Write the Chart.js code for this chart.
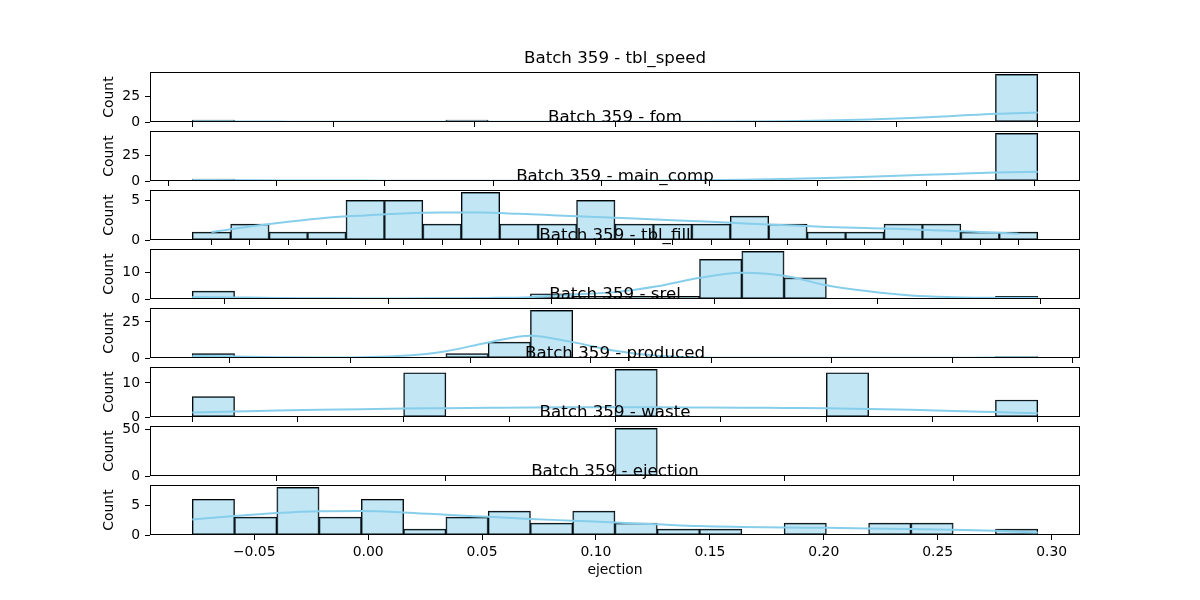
<!DOCTYPE html>
<html>
<head>
<meta charset="utf-8">
<title>Batch 359</title>
<script src="https://cdn.jsdelivr.net/npm/chart.js@4.4.1/dist/chart.umd.min.js"></script>
<style>
  html, body { margin: 0; padding: 0; background: #fff; }
  #wrap { position: relative; width: 1200px; height: 600px; overflow: hidden; }
  .panel { position: absolute; left: 0; width: 1200px; }
  .panel canvas { display: block; }
</style>
</head>
<body>
<div id="wrap"></div>
<script>
// panel names (one histogram per column)
const batchName = 'Batch 359';
const panelNames = ['tbl_speed', 'fom', 'main_comp', 'tbl_fill', 'srel', 'produced', 'waste', 'ejection'];

// bin counts (20 bins each, main_comp has 22 discrete values)
const tblSpeedCounts = [2, 0, 0, 0, 0, 0, 2, 0, 0, 0, 0, 0, 0, 0, 0, 0, 0, 0, 0, 47];
const fomCounts = [2, 1, 0, 0, 0, 0, 0, 0, 0, 0, 0, 0, 0, 0, 0, 0, 0, 0, 1, 47];
const mainCompCounts = [1, 2, 1, 1, 5, 5, 2, 6, 2, 2, 5, 2, 2, 2, 3, 2, 1, 1, 2, 2, 1, 1];
const tblFillCounts = [3, 0, 0, 0, 0, 0, 0, 0, 2, 1, 1, 1, 15, 18, 8, 0, 0, 0, 0, 1];
const srelCounts = [3, 0, 0, 0, 0, 0, 3, 11, 33, 0, 0, 0, 0, 0, 0, 0, 0, 0, 0, 1];
const producedCounts = [6, 0, 0, 0, 0, 13, 0, 0, 0, 0, 14, 0, 0, 0, 0, 13, 0, 0, 0, 5];
const wasteCounts = [0, 0, 0, 0, 0, 0, 0, 0, 0, 0, 51, 0, 0, 0, 0, 0, 0, 0, 0, 0];
const ejectionCounts = [6, 3, 8, 3, 6, 1, 3, 4, 2, 4, 2, 1, 1, 0, 2, 0, 2, 2, 0, 1];

// kde curve read at the bin edges (main_comp: at each value)
const tblSpeedKde = [0.5, 0.5, 0.4, 0.3, 0.3, 0.3, 0.3, 0.3, 0.3, 0.2, 0.2, 0.2, 0.3, 0.5, 0.8, 1.4, 2.4, 3.9, 5.9, 8.1, 9.4];
const fomKde = [1.0, 0.8, 0.6, 0.5, 0.4, 0.35, 0.3, 0.3, 0.3, 0.3, 0.3, 0.45, 0.7, 1.2, 2.0, 3.0, 4.2, 5.6, 7.0, 8.3, 9.1];
const mainCompKde = [1.0, 1.7, 2.3, 2.8, 3.1, 3.35, 3.45, 3.45, 3.3, 3.1, 2.9, 2.7, 2.5, 2.3, 2.05, 1.85, 1.65, 1.5, 1.4, 1.2, 1.0, 0.8];
const tblFillKde = [0.8, 0.6, 0.4, 0.3, 0.2, 0.2, 0.3, 0.4, 0.7, 1.7, 2.6, 4.8, 8.0, 9.9, 8.8, 5.2, 2.9, 1.3, 0.7, 0.5, 0.5];
const srelKde = [1.4, 1.0, 0.6, 0.4, 0.6, 1.5, 4.7, 10.8, 15.5, 11.0, 5.0, 1.5, 0.4, 0.15, 0.1, 0.1, 0.1, 0.15, 0.2, 0.3, 0.3];
const producedKde = [1.3, 1.6, 1.9, 2.1, 2.3, 2.5, 2.6, 2.7, 2.8, 2.85, 2.85, 2.85, 2.8, 2.75, 2.65, 2.55, 2.35, 2.1, 1.8, 1.45, 1.1];
const wasteKde = [];
const ejectionKde = [2.6, 3.2, 3.7, 4.0, 4.05, 3.8, 3.4, 3.05, 2.7, 2.4, 2.1, 1.8, 1.5, 1.35, 1.25, 1.2, 1.1, 1.0, 0.9, 0.7, 0.4];

// first and last bin edge of each panel
const binLow = [20, 0.22, -0.5, -0.2, -0.31, 0, -0.5, -0.0772];
const binHigh = [80, 8.03, 21.5, 4.98, 6.71, 4, 0.5, 0.2939];

// x tick values
const tblSpeedTicks = [20, 30, 40, 50, 60, 70, 80];
const fomTicks = [0, 1, 2, 3, 4, 5, 6, 7, 8];
const mainCompTicks = [0, 1, 2, 3, 4, 5, 6, 7, 8, 9, 10, 11, 12, 13, 14, 15, 16, 17, 18, 19, 20, 21];
const tblFillTicks = [0, 1, 2, 3, 4, 5];
const srelTicks = [0, 1, 2, 3, 4, 5, 6, 7];
const producedTicks = [0, 0.5, 1, 1.5, 2, 2.5, 3, 3.5, 4];
const wasteTicks = [-0.4, -0.2, 0, 0.2, 0.4];
const ejectionTicks = [-0.05, 0, 0.05, 0.1, 0.15, 0.2, 0.25, 0.3];

// y tick step
const yStep = [25, 25, 5, 10, 25, 10, 50, 5];

const allCounts = [tblSpeedCounts, fomCounts, mainCompCounts, tblFillCounts, srelCounts, producedCounts, wasteCounts, ejectionCounts];
const allKde = [tblSpeedKde, fomKde, mainCompKde, tblFillKde, srelKde, producedKde, wasteKde, ejectionKde];
const allTicks = [tblSpeedTicks, fomTicks, mainCompTicks, tblFillTicks, srelTicks, producedTicks, wasteTicks, ejectionTicks];

// layout (pixels)
const AX_TOP = 73;
const AX_STEP = 59;
const AX_H = 49;
const PAD_TOP = 40;
const FONT = 'DejaVu Sans';

Chart.defaults.color = '#000';
Chart.defaults.font.family = FONT;
Chart.defaults.font.size = 13.9;

// full box around each axes, like matplotlib spines
const framePlugin = {
    id: 'frame',
    afterDraw(chart) {
        const { ctx, chartArea: a } = chart;
        ctx.save();
        ctx.strokeStyle = '#000';
        ctx.lineWidth = 1;
        ctx.strokeRect(Math.round(a.left) + 0.5, Math.round(a.top) + 0.5,
            Math.round(a.right - a.left) - 1, Math.round(a.bottom - a.top) - 1);
        ctx.restore();
    }
};

function formatTick(v) {
    const s = Math.abs(v).toFixed(2);
    return v < -1e-9 ? '\u2212' + s : s;
}

const wrap = document.getElementById('wrap');

panelNames.forEach((name, p) => {
    const counts = allCounts[p];
    const kde = allKde[p];
    const ticks = allTicks[p];
    const lo = binLow[p];
    const hi = binHigh[p];
    const span = hi - lo;
    const w = span / counts.length;
    const isLast = p === panelNames.length - 1;
    const xH = isLast ? 46 : 20;
    const h = PAD_TOP + AX_H + xH;

    const box = document.createElement('div');
    box.className = 'panel';
    box.style.top = (AX_TOP + p * AX_STEP - PAD_TOP) + 'px';
    box.style.height = h + 'px';
    box.style.zIndex = p + 1;
    const canvas = document.createElement('canvas');
    canvas.width = 1200;
    canvas.height = h;
    box.appendChild(canvas);
    wrap.appendChild(box);

    const bars = counts.map((c, i) => ({ x: lo + (i + 0.5) * w, y: c }));
    const onCentres = kde.length === counts.length;
    const curve = kde.map((v, i) => ({ x: lo + (onCentres ? i + 0.5 : i) * w, y: v }));

    const datasets = [{
        type: 'bar',
        data: bars,
        backgroundColor: 'rgba(135, 206, 235, 0.5)',
        borderColor: '#000',
        borderWidth: 1,
        borderSkipped: false,
        barPercentage: 1,
        categoryPercentage: 1,
        order: 1
    }];
    if (curve.length) {
        datasets.push({
            type: 'line',
            data: curve,
            borderColor: '#87ceeb',
            borderWidth: 2,
            pointRadius: 0,
            fill: false,
            cubicInterpolationMode: 'monotone',
            order: 0
        });
    }

    new Chart(canvas, {
        type: 'bar',
        data: { datasets },
        options: {
            responsive: false,
            animation: false,
            layout: { padding: { top: 16, left: 97, right: 120, bottom: 0 } },
            plugins: {
                legend: { display: false },
                tooltip: { enabled: false },
                title: {
                    display: true,
                    text: `${batchName} - ${name}`,
                    fullSize: false,
                    color: '#000',
                    font: { family: FONT, size: 16.67, weight: 'normal' },
                    padding: { top: 0, bottom: 3 }
                }
            },
            scales: {
                x: {
                    type: 'linear',
                    offset: false,
                    min: lo - 0.05 * span,
                    max: hi + 0.05 * span,
                    afterBuildTicks: (scale) => { scale.ticks = ticks.map(v => ({ value: v })); },
                    afterFit: (scale) => { scale.height = xH; },
                    border: { display: false },
                    grid: { drawOnChartArea: false, drawTicks: true, tickLength: 5, tickColor: '#000', lineWidth: 1, offset: false },
                    ticks: {
                        display: isLast,
                        padding: 4,
                        maxRotation: 0,
                        autoSkip: false,
                        callback: (v) => formatTick(v)
                    },
                    title: {
                        display: isLast,
                        text: name,
                        font: { family: FONT, size: 13.9 },
                        padding: { top: 0, bottom: 2 }
                    }
                },
                y: {
                    type: 'linear',
                    min: 0,
                    max: Math.max(...counts) * 1.05,
                    afterFit: (scale) => { scale.width = 53; },
                    border: { display: false },
                    grid: { drawOnChartArea: false, drawTicks: true, tickLength: 5, tickColor: '#000', lineWidth: 1 },
                    ticks: { stepSize: yStep[p], includeBounds: false, padding: 5 },
                    title: {
                        display: true,
                        text: 'Count',
                        font: { family: FONT, size: 13.9 },
                        padding: { top: 4, bottom: 0 }
                    }
                }
            }
        },
        plugins: [framePlugin]
    });
});
</script>
</body>
</html>
